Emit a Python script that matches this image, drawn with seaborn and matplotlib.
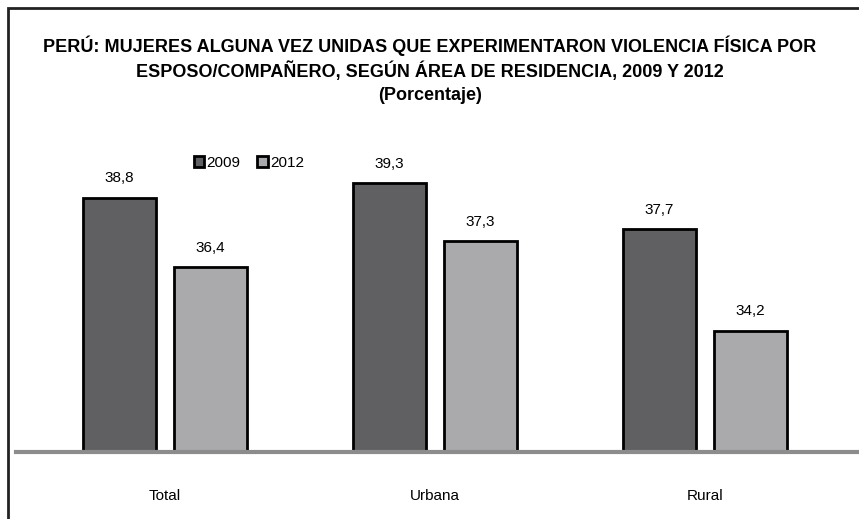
import pandas as pd
import matplotlib
matplotlib.use("Agg")
import matplotlib.pyplot as plt
import seaborn as sns
from matplotlib.patches import Rectangle

# datos
areas = ["Total", "Urbana", "Rural"]
anios = ["2009", "2012"]
v2009 = [38.8, 39.3, 37.7]
v2012 = [36.4, 37.3, 34.2]

df = pd.DataFrame({
    "area": areas * 2,
    "anio": [anios[0]] * 3 + [anios[1]] * 3,
    "valor": v2009 + v2012,
})

sns.set_style("white")
plt.rcParams["font.family"] = ["Liberation Sans", "DejaVu Sans"]
plt.rcParams["text.color"] = "black"
plt.rcParams["xtick.color"] = "black"

W, H = 859, 519
fig = plt.figure(figsize=(W / 100, H / 100), dpi=100)
ax = fig.add_axes([16 / W, 1 - 452 / H, (W - 16) / W, (452 - 140) / H])

colores = {"2009": "#5f6064", "2012": "#a9aaad"}
sns.barplot(data=df, x="area", y="valor", hue="anio", palette=colores,
            width=0.674, gap=0.2, edgecolor="black", linewidth=2,
            ax=ax, legend=False)

ymin = 30
ax.set_ylim(ymin, ymin + (452 - 140) / 28.9)
ax.set_xlim(-0.552, 2.57)

for cont in ax.containers:
    labs = [f"{b.get_height():.1f}".replace(".", ",") for b in cont]
    ax.bar_label(cont, labels=labs, padding=9, fontsize=11)

ax.set_xlabel(""); ax.set_ylabel("")
ax.set_yticks([])
ax.tick_params(axis="x", length=0, pad=27, labelsize=11)
for s in ["top", "right", "left"]:
    ax.spines[s].set_visible(False)
ax.spines["bottom"].set_color("#8c8c8c")
ax.spines["bottom"].set_linewidth(3)

# leyenda
handles = [Rectangle((0, 0), 1, 1, facecolor=colores[a], edgecolor="black", linewidth=2) for a in anios]
fig.legend(handles, anios, loc="center left", bbox_to_anchor=(186 / W, 1 - 163 / H),
           ncol=2, frameon=False, fontsize=11, handlelength=0.7, handleheight=0.7,
           handletextpad=0.15, columnspacing=1.1, borderpad=0)

# titulo
fig.text(430 / W, 1 - 46 / H, "PERÚ: MUJERES ALGUNA VEZ UNIDAS QUE EXPERIMENTARON VIOLENCIA FÍSICA POR",
         ha="center", va="center", fontsize=13, fontweight="bold")
fig.text(430 / W, 1 - 71 / H, "ESPOSO/COMPAÑERO, SEGÚN ÁREA DE RESIDENCIA, 2009 Y 2012",
         ha="center", va="center", fontsize=13, fontweight="bold")
fig.text(430 / W, 1 - 96 / H, "(Porcentaje)", ha="center", va="center", fontsize=13, fontweight="bold")

# marco
fig.patches.append(Rectangle((8 / W, -0.1), 1.2, 1 - 8 / H + 0.1, transform=fig.transFigure,
                             fill=False, edgecolor="#222222", linewidth=2))

fig.savefig("out.png", dpi=100)
